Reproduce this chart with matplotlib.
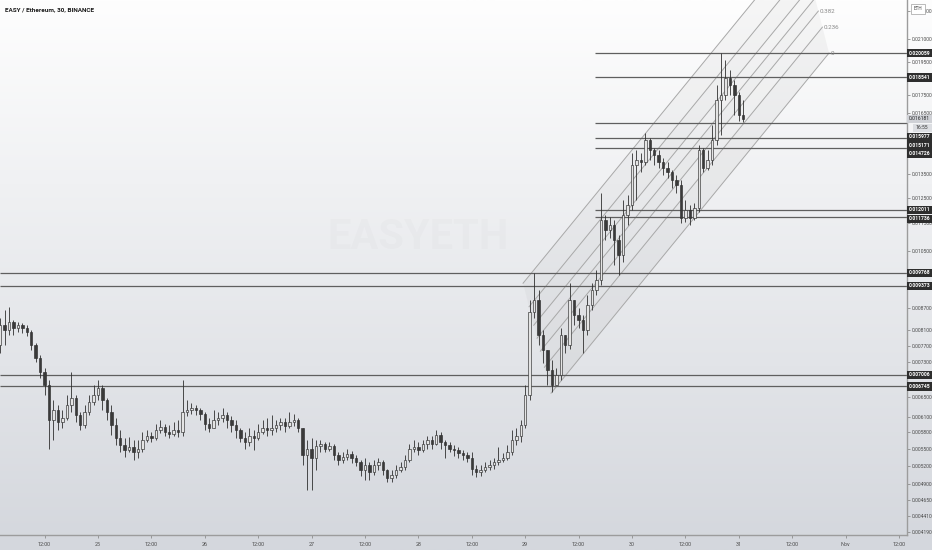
import numpy as np
import matplotlib
matplotlib.use("Agg")
import matplotlib.pyplot as plt
from matplotlib.patches import Rectangle
from matplotlib.ticker import NullLocator

plt.rcParams['font.family'] = ['Roboto', 'DejaVu Sans']

title = "EASY / Ethereum, 30, BINANCE"
watermark = "EASYETH"

# candles (hourly), first one opens Oct 24 02:00; time axis in days since Oct 24 00:00
first_hour = 2
open0 = 0.00772
closes = [
    0.00825, 0.00811, 0.00833, 0.00816, 0.00825, 0.00816, 0.00806, 0.00772, 0.00740, 0.00706,
    0.00677, 0.00604, 0.00624, 0.00600, 0.00608, 0.00634, 0.00649, 0.00614, 0.00594, 0.00620,
    0.00640, 0.00655, 0.00670, 0.00644, 0.00620, 0.00594, 0.00569, 0.00556, 0.00547, 0.00552,
    0.00543, 0.00550, 0.00565, 0.00573, 0.00569, 0.00584, 0.00590, 0.00580, 0.00577, 0.00584,
    0.00580, 0.00620, 0.00624, 0.00628, 0.00624, 0.00616, 0.00596, 0.00588, 0.00604, 0.00608,
    0.00614, 0.00604, 0.00594, 0.00584, 0.00569, 0.00561, 0.00573, 0.00569, 0.00580, 0.00588,
    0.00584, 0.00588, 0.00594, 0.00600, 0.00592, 0.00600, 0.00604, 0.00588, 0.00538, 0.00550,
    0.00533, 0.00554, 0.00558, 0.00550, 0.00554, 0.00538, 0.00529, 0.00535, 0.00540, 0.00533,
    0.00526, 0.00512, 0.00521, 0.00509, 0.00521, 0.00526, 0.00512, 0.00499, 0.00504, 0.00512,
    0.00517, 0.00529, 0.00550, 0.00552, 0.00547, 0.00558, 0.00565, 0.00559, 0.00575, 0.00561,
    0.00556, 0.00550, 0.00547, 0.00542, 0.00538, 0.00533, 0.00515, 0.00509, 0.00512, 0.00517,
    0.00521, 0.00526, 0.00529, 0.00533, 0.00543, 0.00565, 0.00573, 0.00594, 0.00655, 0.00860,
    0.00894, 0.00798, 0.00759, 0.00711, 0.00677, 0.00700, 0.00798, 0.00772, 0.00894, 0.00851,
    0.00838, 0.00811, 0.00879, 0.00923, 0.00954, 0.01161, 0.01124, 0.01143, 0.01089, 0.01037,
    0.01181, 0.01221, 0.01391, 0.01414, 0.01405, 0.01508, 0.01461, 0.01437, 0.01405, 0.01378,
    0.01360, 0.01324, 0.01303, 0.01169, 0.01201, 0.01169, 0.01209, 0.01461, 0.01378, 0.01414,
    0.01508, 0.01719, 0.01748, 0.01848, 0.01806, 0.01748, 0.01638, 0.01618,
]
highs = [
    0.00843, 0.00865, 0.00873, 0.00838, 0.00833, 0.00830, 0.00825, 0.00811, 0.00777, 0.00747,
    0.00716, 0.00688, 0.00644, 0.00634, 0.00624, 0.00655, 0.00706, 0.00655, 0.00620, 0.00634,
    0.00655, 0.00677, 0.00688, 0.00677, 0.00649, 0.00634, 0.00608, 0.00584, 0.00569, 0.00571,
    0.00565, 0.00565, 0.00580, 0.00584, 0.00580, 0.00596, 0.00604, 0.00596, 0.00594, 0.00600,
    0.00604, 0.00688, 0.00644, 0.00638, 0.00634, 0.00628, 0.00620, 0.00608, 0.00624, 0.00620,
    0.00628, 0.00620, 0.00612, 0.00604, 0.00588, 0.00580, 0.00588, 0.00584, 0.00596, 0.00604,
    0.00608, 0.00614, 0.00604, 0.00608, 0.00608, 0.00620, 0.00616, 0.00608, 0.00588, 0.00565,
    0.00569, 0.00565, 0.00565, 0.00561, 0.00561, 0.00558, 0.00543, 0.00543, 0.00549, 0.00545,
    0.00538, 0.00529, 0.00533, 0.00526, 0.00529, 0.00533, 0.00529, 0.00515, 0.00512, 0.00521,
    0.00526, 0.00538, 0.00559, 0.00565, 0.00561, 0.00565, 0.00573, 0.00573, 0.00584, 0.00580,
    0.00565, 0.00561, 0.00556, 0.00552, 0.00547, 0.00543, 0.00543, 0.00521, 0.00521, 0.00526,
    0.00529, 0.00533, 0.00552, 0.00542, 0.00556, 0.00584, 0.00588, 0.00604, 0.00677, 0.00894,
    0.00977, 0.00923, 0.00811, 0.00759, 0.00735, 0.00716, 0.00816, 0.00798, 0.00945, 0.00894,
    0.00870, 0.00851, 0.00909, 0.00945, 0.00987, 0.01271, 0.01181, 0.01173, 0.01161, 0.01106,
    0.01241, 0.01261, 0.01446, 0.01461, 0.01446, 0.01544, 0.01518, 0.01470, 0.01461, 0.01423,
    0.01405, 0.01369, 0.01346, 0.01324, 0.01241, 0.01221, 0.01229, 0.01484, 0.01470, 0.01461,
    0.01585, 0.01806, 0.020059, 0.01961, 0.01897, 0.01836, 0.01765, 0.01719,
]
lows = [
    0.00751, 0.00772, 0.00798, 0.00798, 0.00806, 0.00803, 0.00795, 0.00759, 0.00730, 0.00693,
    0.00655, 0.00550, 0.00565, 0.00584, 0.00588, 0.00604, 0.00620, 0.00600, 0.00584, 0.00588,
    0.00614, 0.00634, 0.00644, 0.00624, 0.00604, 0.00575, 0.00556, 0.00543, 0.00535, 0.00543,
    0.00529, 0.00533, 0.00543, 0.00561, 0.00561, 0.00565, 0.00579, 0.00573, 0.00569, 0.00573,
    0.00571, 0.00573, 0.00612, 0.00616, 0.00614, 0.00604, 0.00584, 0.00580, 0.00588, 0.00594,
    0.00600, 0.00588, 0.00580, 0.00569, 0.00561, 0.00550, 0.00554, 0.00547, 0.00565, 0.00577,
    0.00573, 0.00575, 0.00580, 0.00584, 0.00580, 0.00588, 0.00592, 0.00580, 0.00521, 0.00480,
    0.00480, 0.00512, 0.00543, 0.00543, 0.00545, 0.00529, 0.00521, 0.00524, 0.00529, 0.00524,
    0.00519, 0.00502, 0.00496, 0.00496, 0.00504, 0.00512, 0.00504, 0.00493, 0.00493, 0.00499,
    0.00509, 0.00512, 0.00526, 0.00543, 0.00538, 0.00543, 0.00550, 0.00550, 0.00556, 0.00550,
    0.00533, 0.00543, 0.00536, 0.00533, 0.00529, 0.00526, 0.00504, 0.00501, 0.00502, 0.00509,
    0.00512, 0.00515, 0.00522, 0.00526, 0.00529, 0.00538, 0.00556, 0.00561, 0.00588, 0.00644,
    0.00843, 0.00772, 0.00728, 0.00677, 0.00662, 0.00677, 0.00688, 0.00751, 0.00762, 0.00825,
    0.00816, 0.00751, 0.00798, 0.00865, 0.00909, 0.00939, 0.01089, 0.01095, 0.01003, 0.00971,
    0.01013, 0.01143, 0.01201, 0.01241, 0.01360, 0.01391, 0.01414, 0.01391, 0.01378, 0.01346,
    0.01333, 0.01291, 0.01271, 0.01150, 0.01154, 0.01143, 0.01161, 0.01193, 0.01360, 0.01369,
    0.01391, 0.01484, 0.01534, 0.01719, 0.01748, 0.01638, 0.01606, 0.01602,
]

# horizontal levels drawn on the chart
full_levels = [0.009768, 0.009373, 0.007006, 0.006745]
right_levels = [0.020059, 0.018541, 0.015977, 0.015171, 0.014726, 0.012011, 0.011736]
right_start = 5.654          # partial lines start Oct 29 ~15:40
last_price = 0.016181
countdown = "16:55"

# fib channel: base line (day, price) and shift of level 1
fib_levels = [0, 0.236, 0.382, 0.5, 0.618, 0.786, 1]
fib_base = [(5.242, 0.006592), (7.845, 0.020059)]
fib_shift_days = -0.262
fib_shift_ratio = 1.433

# axis ticks
price_ticks = [0.00419, 0.00441, 0.00465, 0.0049, 0.0052, 0.0055, 0.0058, 0.0061, 0.0065,
               0.0073, 0.0077, 0.0081, 0.0087, 0.0105, 0.0115, 0.0125, 0.0135,
               0.0165, 0.0175, 0.0195, 0.021, 0.023]
time_ticks = [0.5, 1, 1.5, 2, 2.5, 3, 3.5, 4, 4.5, 5, 5.5, 6, 6.5, 7, 7.5, 8, 8.5]
time_labels = ["12:00", "25", "12:00", "26", "12:00", "27", "12:00", "28", "12:00",
               "29", "12:00", "30", "12:00", "31", "12:00", "Nov", "12:00"]

W, H = 932, 550
fig = plt.figure(figsize=(W / 100, H / 100), dpi=100)

# background gradient
bg = fig.add_axes([0, 0, 1, 1], zorder=0)
grad = np.linspace(0, 1, 256)[:, None]
top_c = np.array([254, 254, 254]) / 255
bot_c = np.array([212, 215, 221]) / 255
img = top_c[None, None, :] * (1 - grad[:, :, None]) + bot_c[None, None, :] * grad[:, :, None]
bg.imshow(img, aspect='auto', extent=[0, 1, 0, 1])
bg.axis('off')

ax = fig.add_axes([0, 15 / H, 907 / W, 535 / H], zorder=1)
ax.patch.set_alpha(0)
ax.set_yscale('log')
ylo, yhi = 0.0041448, 0.023862
xlo, xhi = 0.0824, 8.575
ax.set_ylim(ylo, yhi)
ax.set_xlim(xlo, xhi)

# watermark
ax.text(0.461, 0.557, watermark, transform=ax.transAxes, fontsize=30, color='#000000',
        alpha=0.014, ha='center', va='center', fontweight='bold')

# fib channel
(t0, p0), (t1, p1) = fib_base
lines = []
for lv in fib_levels:
    ts = [t0 + lv * fib_shift_days, t1 + lv * fib_shift_days]
    ps = [p0 * fib_shift_ratio ** lv, p1 * fib_shift_ratio ** lv]
    lines.append((ts, ps))
for k in range(len(lines) - 1):
    (ta, pa), (tb, pb) = lines[k], lines[k + 1]
    ax.fill([ta[0], ta[1], tb[1], tb[0]], [pa[0], pa[1], pb[1], pb[0]],
            color='#808080', alpha=0.08 if k % 2 == 0 else 0.06, lw=0, zorder=1)
for lv, (ts, ps) in zip(fib_levels, lines):
    ax.plot(ts, ps, color='#a8a8a8', lw=0.7, zorder=2)
    ax.annotate(f"{lv:g}", (ts[1], ps[1]), xytext=(1, 0), textcoords='offset points',
                fontsize=4.5, color='#8a8a8a', va='center', ha='left', annotation_clip=True)

# horizontal lines
ax.hlines(full_levels, xlo, xhi, color='#5f5f5f', lw=0.9, zorder=2)
ax.hlines(right_levels, right_start, xhi, color='#5f5f5f', lw=0.9, zorder=2)

# candles
c = np.array(closes)
hi = np.array(highs)
lo = np.array(lows)
o = np.r_[open0, c[:-1]]
t = (first_hour + np.arange(len(c))) / 24
up = c >= o
ax.vlines(t, lo, hi, color='#2f2f2f', lw=0.6, zorder=3)
bw = 0.55 / 24
ax.bar(t[up], (c - o)[up], bottom=o[up], width=bw, color='#e4e4e4',
       edgecolor='#2f2f2f', lw=0.45, zorder=4)
ax.bar(t[~up], (o - c)[~up], bottom=c[~up], width=bw, color='#3a3a3a',
       edgecolor='#2f2f2f', lw=0.45, zorder=4)

# axes styling
for s in ['top', 'left']:
    ax.spines[s].set_visible(False)
for s in ['right', 'bottom']:
    ax.spines[s].set_color('#9c9c9c')
    ax.spines[s].set_linewidth(1)
ax.yaxis.tick_right()
ax.yaxis.set_minor_locator(NullLocator())
ax.set_yticks(price_ticks)
ax.set_yticklabels([f"{p:.6f}" for p in price_ticks])
ax.set_xticks(time_ticks)
ax.set_xticklabels(time_labels)
ax.tick_params(axis='y', length=2.5, width=0.6, pad=1.0, color='#8c8c8c',
               labelsize=3.6, labelcolor='#4a4a4a')
ax.tick_params(axis='x', length=2.5, width=0.6, pad=2.5, color='#8c8c8c',
               labelsize=3.9, labelcolor='#4a4a4a')


# price labels on the axis, stacked so they do not overlap
def ypix(p):
    f = (np.log(p) - np.log(ylo)) / (np.log(yhi) - np.log(ylo))
    return H - (15 + f * 535)


items = [(p, f"{p:.6f}", 'line') for p in right_levels + full_levels]
items.append((last_price, f"{last_price:.6f}", 'last'))
items.append((last_price * 0.99999, countdown, 'count'))
items.sort(key=lambda it: -it[0])
bh = 8.8
pos = []
for p, txt, kind in items:
    y = ypix(p)
    if pos and y < pos[-1] + bh:
        y = pos[-1] + bh
    pos.append(y)

styles = {'line': ('#2e2e2e', '#ffffff'), 'last': ('#cfd1d6', '#222222'),
          'count': ('#dcdee2', '#333333')}
for (p, txt, kind), y in zip(items, pos):
    fc, tc = styles[kind]
    x0 = 907 if kind != 'count' else 913
    fig.add_artist(Rectangle((x0 / W, (H - y - bh / 2) / H), (W - x0) / W, (bh - 0.6) / H,
                             transform=fig.transFigure, facecolor=fc, edgecolor='none', zorder=5))
    fig.text((x0 + 2.2) / W, (H - y) / H, txt, color=tc, fontsize=3.6, va='center',
             ha='left', zorder=6, fontweight='bold' if kind == 'line' else 'normal')

# currency box
fig.add_artist(Rectangle((911 / W, (H - 14) / H), 14 / W, 10 / H, transform=fig.transFigure,
                         facecolor='#ffffff', edgecolor='#a0a0a0', lw=0.5, zorder=6))
fig.text(918 / W, (H - 9) / H, "ETH", fontsize=3.3, color='#444444', ha='center',
         va='center', zorder=7)

fig.text(5 / W, (H - 10) / H, title, fontsize=4.6, color='#1a1a1a', fontweight='bold',
         va='center', ha='left')

fig.savefig("out.png", dpi=100)
